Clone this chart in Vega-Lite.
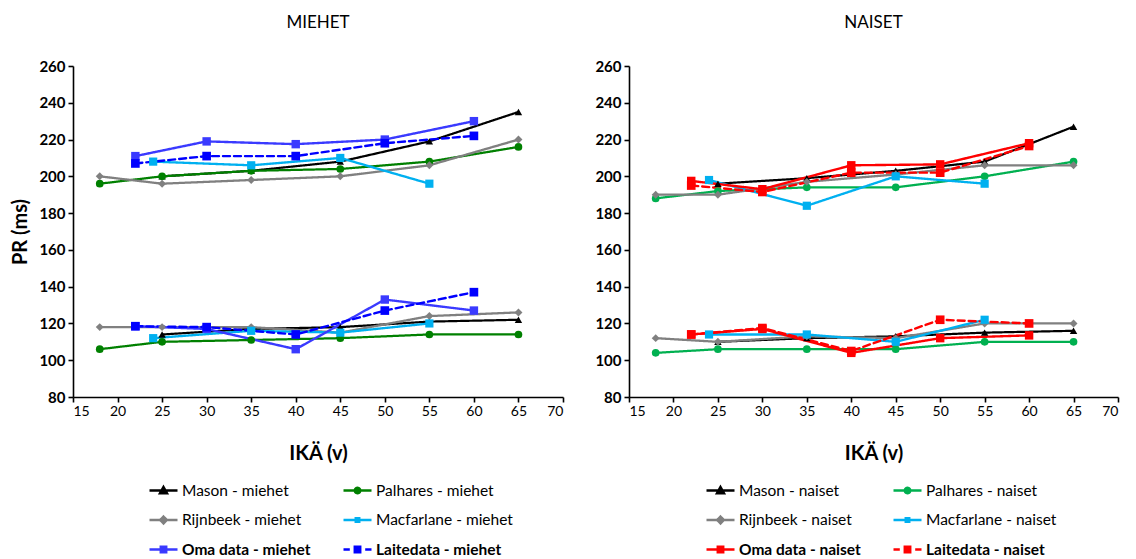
{
  "$schema": "https://vega.github.io/schema/vega-lite/v6.json",
  "padding": {"left": 10, "top": 14, "right": 5, "bottom": 0},
  "background": "white",
  "config": {
    "font": "Lato",
    "view": {"stroke": null},
    "axis": {"grid": false, "domainColor": "black", "domainWidth": 1.6, "tickColor": "black", "tickWidth": 1.6, "tickSize": 5, "labelColor": "black", "titleColor": "black"},
    "legend": {"labelFont": "Lato", "labelFontSize": 15.5, "labelColor": "black", "symbolSize": 784, "symbolStrokeWidth": 2.3, "columns": 2, "columnPadding": 27, "rowPadding": 5.5, "labelOffset": 3, "orient": "none", "title": null}
  },
  "resolve": {
    "scale": {"color": "independent", "shape": "independent", "size": "independent", "strokeDash": "independent", "strokeWidth": "independent"},
    "legend": {"color": "independent"}
  },
  "datasets": {
    "pr": [
      {"sex":"miehet","series":"Mason - miehet","band":"u","age":25,"pr":200},
      {"sex":"miehet","series":"Mason - miehet","band":"u","age":35,"pr":203},
      {"sex":"miehet","series":"Mason - miehet","band":"u","age":45,"pr":208},
      {"sex":"miehet","series":"Mason - miehet","band":"u","age":55,"pr":219},
      {"sex":"miehet","series":"Mason - miehet","band":"u","age":65,"pr":235},
      {"sex":"miehet","series":"Mason - miehet","band":"l","age":25,"pr":114},
      {"sex":"miehet","series":"Mason - miehet","band":"l","age":35,"pr":117},
      {"sex":"miehet","series":"Mason - miehet","band":"l","age":45,"pr":118},
      {"sex":"miehet","series":"Mason - miehet","band":"l","age":55,"pr":121},
      {"sex":"miehet","series":"Mason - miehet","band":"l","age":65,"pr":122},
      {"sex":"miehet","series":"Palhares - miehet","band":"u","age":18,"pr":196},
      {"sex":"miehet","series":"Palhares - miehet","band":"u","age":25,"pr":200},
      {"sex":"miehet","series":"Palhares - miehet","band":"u","age":35,"pr":203},
      {"sex":"miehet","series":"Palhares - miehet","band":"u","age":45,"pr":204},
      {"sex":"miehet","series":"Palhares - miehet","band":"u","age":55,"pr":208},
      {"sex":"miehet","series":"Palhares - miehet","band":"u","age":65,"pr":216},
      {"sex":"miehet","series":"Palhares - miehet","band":"l","age":18,"pr":106},
      {"sex":"miehet","series":"Palhares - miehet","band":"l","age":25,"pr":110},
      {"sex":"miehet","series":"Palhares - miehet","band":"l","age":35,"pr":111},
      {"sex":"miehet","series":"Palhares - miehet","band":"l","age":45,"pr":112},
      {"sex":"miehet","series":"Palhares - miehet","band":"l","age":55,"pr":114},
      {"sex":"miehet","series":"Palhares - miehet","band":"l","age":65,"pr":114},
      {"sex":"miehet","series":"Rijnbeek - miehet","band":"u","age":18,"pr":200},
      {"sex":"miehet","series":"Rijnbeek - miehet","band":"u","age":25,"pr":196},
      {"sex":"miehet","series":"Rijnbeek - miehet","band":"u","age":35,"pr":198},
      {"sex":"miehet","series":"Rijnbeek - miehet","band":"u","age":45,"pr":200},
      {"sex":"miehet","series":"Rijnbeek - miehet","band":"u","age":55,"pr":206},
      {"sex":"miehet","series":"Rijnbeek - miehet","band":"u","age":65,"pr":220},
      {"sex":"miehet","series":"Rijnbeek - miehet","band":"l","age":18,"pr":118},
      {"sex":"miehet","series":"Rijnbeek - miehet","band":"l","age":25,"pr":118},
      {"sex":"miehet","series":"Rijnbeek - miehet","band":"l","age":35,"pr":118},
      {"sex":"miehet","series":"Rijnbeek - miehet","band":"l","age":45,"pr":115},
      {"sex":"miehet","series":"Rijnbeek - miehet","band":"l","age":55,"pr":124},
      {"sex":"miehet","series":"Rijnbeek - miehet","band":"l","age":65,"pr":126},
      {"sex":"miehet","series":"Macfarlane - miehet","band":"u","age":24,"pr":208},
      {"sex":"miehet","series":"Macfarlane - miehet","band":"u","age":35,"pr":206},
      {"sex":"miehet","series":"Macfarlane - miehet","band":"u","age":45,"pr":210},
      {"sex":"miehet","series":"Macfarlane - miehet","band":"u","age":55,"pr":196},
      {"sex":"miehet","series":"Macfarlane - miehet","band":"l","age":24,"pr":112},
      {"sex":"miehet","series":"Macfarlane - miehet","band":"l","age":35,"pr":116},
      {"sex":"miehet","series":"Macfarlane - miehet","band":"l","age":45,"pr":115},
      {"sex":"miehet","series":"Macfarlane - miehet","band":"l","age":55,"pr":120},
      {"sex":"miehet","series":"Oma data - miehet","band":"u","age":22,"pr":211},
      {"sex":"miehet","series":"Oma data - miehet","band":"u","age":30,"pr":219},
      {"sex":"miehet","series":"Oma data - miehet","band":"u","age":40,"pr":217.5},
      {"sex":"miehet","series":"Oma data - miehet","band":"u","age":50,"pr":220},
      {"sex":"miehet","series":"Oma data - miehet","band":"u","age":60,"pr":230},
      {"sex":"miehet","series":"Oma data - miehet","band":"l","age":22,"pr":118.5},
      {"sex":"miehet","series":"Oma data - miehet","band":"l","age":30,"pr":117},
      {"sex":"miehet","series":"Oma data - miehet","band":"l","age":40,"pr":106},
      {"sex":"miehet","series":"Oma data - miehet","band":"l","age":50,"pr":133},
      {"sex":"miehet","series":"Oma data - miehet","band":"l","age":60,"pr":127},
      {"sex":"miehet","series":"Laitedata - miehet","band":"u","age":22,"pr":207},
      {"sex":"miehet","series":"Laitedata - miehet","band":"u","age":30,"pr":211},
      {"sex":"miehet","series":"Laitedata - miehet","band":"u","age":40,"pr":211},
      {"sex":"miehet","series":"Laitedata - miehet","band":"u","age":50,"pr":218},
      {"sex":"miehet","series":"Laitedata - miehet","band":"u","age":60,"pr":222},
      {"sex":"miehet","series":"Laitedata - miehet","band":"l","age":22,"pr":118.5},
      {"sex":"miehet","series":"Laitedata - miehet","band":"l","age":30,"pr":118},
      {"sex":"miehet","series":"Laitedata - miehet","band":"l","age":40,"pr":114},
      {"sex":"miehet","series":"Laitedata - miehet","band":"l","age":50,"pr":127},
      {"sex":"miehet","series":"Laitedata - miehet","band":"l","age":60,"pr":137},

      {"sex":"naiset","series":"Mason - naiset","band":"u","age":25,"pr":196},
      {"sex":"naiset","series":"Mason - naiset","band":"u","age":35,"pr":199},
      {"sex":"naiset","series":"Mason - naiset","band":"u","age":45,"pr":203},
      {"sex":"naiset","series":"Mason - naiset","band":"u","age":55,"pr":208},
      {"sex":"naiset","series":"Mason - naiset","band":"u","age":65,"pr":227},
      {"sex":"naiset","series":"Mason - naiset","band":"l","age":25,"pr":110},
      {"sex":"naiset","series":"Mason - naiset","band":"l","age":35,"pr":112},
      {"sex":"naiset","series":"Mason - naiset","band":"l","age":45,"pr":113},
      {"sex":"naiset","series":"Mason - naiset","band":"l","age":55,"pr":115},
      {"sex":"naiset","series":"Mason - naiset","band":"l","age":65,"pr":116},
      {"sex":"naiset","series":"Palhares - naiset","band":"u","age":18,"pr":188},
      {"sex":"naiset","series":"Palhares - naiset","band":"u","age":25,"pr":192},
      {"sex":"naiset","series":"Palhares - naiset","band":"u","age":35,"pr":194},
      {"sex":"naiset","series":"Palhares - naiset","band":"u","age":45,"pr":194},
      {"sex":"naiset","series":"Palhares - naiset","band":"u","age":55,"pr":200},
      {"sex":"naiset","series":"Palhares - naiset","band":"u","age":65,"pr":208},
      {"sex":"naiset","series":"Palhares - naiset","band":"l","age":18,"pr":104},
      {"sex":"naiset","series":"Palhares - naiset","band":"l","age":25,"pr":106},
      {"sex":"naiset","series":"Palhares - naiset","band":"l","age":35,"pr":106},
      {"sex":"naiset","series":"Palhares - naiset","band":"l","age":45,"pr":106},
      {"sex":"naiset","series":"Palhares - naiset","band":"l","age":55,"pr":110},
      {"sex":"naiset","series":"Palhares - naiset","band":"l","age":65,"pr":110},
      {"sex":"naiset","series":"Rijnbeek - naiset","band":"u","age":18,"pr":190},
      {"sex":"naiset","series":"Rijnbeek - naiset","band":"u","age":25,"pr":190},
      {"sex":"naiset","series":"Rijnbeek - naiset","band":"u","age":35,"pr":197},
      {"sex":"naiset","series":"Rijnbeek - naiset","band":"u","age":45,"pr":201},
      {"sex":"naiset","series":"Rijnbeek - naiset","band":"u","age":55,"pr":206},
      {"sex":"naiset","series":"Rijnbeek - naiset","band":"u","age":65,"pr":206},
      {"sex":"naiset","series":"Rijnbeek - naiset","band":"l","age":18,"pr":112},
      {"sex":"naiset","series":"Rijnbeek - naiset","band":"l","age":25,"pr":110},
      {"sex":"naiset","series":"Rijnbeek - naiset","band":"l","age":35,"pr":113},
      {"sex":"naiset","series":"Rijnbeek - naiset","band":"l","age":45,"pr":112},
      {"sex":"naiset","series":"Rijnbeek - naiset","band":"l","age":55,"pr":120},
      {"sex":"naiset","series":"Rijnbeek - naiset","band":"l","age":65,"pr":120},
      {"sex":"naiset","series":"Macfarlane - naiset","band":"u","age":24,"pr":198},
      {"sex":"naiset","series":"Macfarlane - naiset","band":"u","age":35,"pr":184},
      {"sex":"naiset","series":"Macfarlane - naiset","band":"u","age":45,"pr":200},
      {"sex":"naiset","series":"Macfarlane - naiset","band":"u","age":55,"pr":196},
      {"sex":"naiset","series":"Macfarlane - naiset","band":"l","age":24,"pr":114},
      {"sex":"naiset","series":"Macfarlane - naiset","band":"l","age":35,"pr":114},
      {"sex":"naiset","series":"Macfarlane - naiset","band":"l","age":45,"pr":110},
      {"sex":"naiset","series":"Macfarlane - naiset","band":"l","age":55,"pr":122},
      {"sex":"naiset","series":"Oma data - naiset","band":"u","age":22,"pr":197.5},
      {"sex":"naiset","series":"Oma data - naiset","band":"u","age":30,"pr":193},
      {"sex":"naiset","series":"Oma data - naiset","band":"u","age":40,"pr":206},
      {"sex":"naiset","series":"Oma data - naiset","band":"u","age":50,"pr":206.5},
      {"sex":"naiset","series":"Oma data - naiset","band":"u","age":60,"pr":218},
      {"sex":"naiset","series":"Oma data - naiset","band":"l","age":22,"pr":114},
      {"sex":"naiset","series":"Oma data - naiset","band":"l","age":30,"pr":117},
      {"sex":"naiset","series":"Oma data - naiset","band":"l","age":40,"pr":104},
      {"sex":"naiset","series":"Oma data - naiset","band":"l","age":50,"pr":112},
      {"sex":"naiset","series":"Oma data - naiset","band":"l","age":60,"pr":113.5},
      {"sex":"naiset","series":"Laitedata - naiset","band":"u","age":22,"pr":195},
      {"sex":"naiset","series":"Laitedata - naiset","band":"u","age":30,"pr":191.5},
      {"sex":"naiset","series":"Laitedata - naiset","band":"u","age":40,"pr":202},
      {"sex":"naiset","series":"Laitedata - naiset","band":"u","age":50,"pr":202},
      {"sex":"naiset","series":"Laitedata - naiset","band":"u","age":60,"pr":216.5},
      {"sex":"naiset","series":"Laitedata - naiset","band":"l","age":22,"pr":114},
      {"sex":"naiset","series":"Laitedata - naiset","band":"l","age":30,"pr":117.5},
      {"sex":"naiset","series":"Laitedata - naiset","band":"l","age":40,"pr":105},
      {"sex":"naiset","series":"Laitedata - naiset","band":"l","age":50,"pr":122},
      {"sex":"naiset","series":"Laitedata - naiset","band":"l","age":60,"pr":120}
    ]
  },
  "bounds": "flush",
  "spacing": 66,
  "hconcat": [
    {
      "width": 490,
      "height": 331,
      "title": {"text": "MIEHET", "fontSize": 17, "fontWeight": "normal", "color": "black", "offset": 27, "frame": "group"},
      "data": {"name": "pr"},
      "transform": [{"filter": "datum.sex == 'miehet'"}],
      "encoding": {
        "x": {"field": "age", "type": "quantitative", "scale": {"domain": [15, 70], "nice": false},
              "axis": {"values": [15,20,25,30,35,40,45,50,55,60,65,70], "labelFontSize": 14, "labelPadding": 2, "title": "IKÄ (v)", "titleFontSize": 20, "titleFontWeight": "bold", "titlePadding": 25}},
        "y": {"field": "pr", "type": "quantitative", "scale": {"domain": [80, 260], "nice": false},
              "axis": {"values": [80,100,120,140,160,180,200,220,240,260], "labelFontSize": 15, "labelFontWeight": "bold", "labelPadding": 3, "title": "PR (ms)", "titleFontSize": 20, "titleFontWeight": "bold", "titlePadding": 8}},
        "color": {"field": "series", "type": "nominal",
                  "scale": {"domain": ["Mason - miehet","Rijnbeek - miehet","Oma data - miehet","Palhares - miehet","Macfarlane - miehet","Laitedata - miehet"],
                            "range": ["#000000","#808080","#3A3AFF","#008000","#00B0F0","#0000FF"]},
                  "legend": {"legendX": 75, "legendY": 409, "symbolSize": 784,
                    "encoding": {
                      "labels": {"fontWeight": {"value": {"expr": "indexof(datum.label,'data') >= 0 ? 'bold' : 'normal'"}}},
                      "symbols": {
                        "shape": {"value": {"expr": "indexof(datum.value,'Mason')>=0 ? 'M-1,0H1M0,-0.26L0.26,0.2H-0.26Z' : indexof(datum.value,'Palhares')>=0 ? 'M-1,0H1M0.2,0A0.2,0.2 0 1,1 -0.2,0A0.2,0.2 0 1,1 0.2,0Z' : indexof(datum.value,'Rijnbeek')>=0 ? 'M-1,0H1M0,-0.25L0.25,0L0,0.25L-0.25,0Z' : indexof(datum.value,'Macfarlane')>=0 ? 'M-1,0H1M-0.13,-0.13H0.13V0.13H-0.13Z' : indexof(datum.value,'Oma')>=0 ? 'M-1,0H1M-0.2,-0.2H0.2V0.2H-0.2Z' : 'M-1,0H-0.55M0.55,0H1M-0.2,-0.2H0.2V0.2H-0.2Z'"}},
                        "fill": {"value": {"expr": "indexof(datum.value,'Mason')>=0 ? '#000000' : indexof(datum.value,'Palhares')>=0 ? '#008000' : indexof(datum.value,'Rijnbeek')>=0 ? '#808080' : indexof(datum.value,'Macfarlane')>=0 ? '#00B0F0' : indexof(datum.value,'Oma')>=0 ? '#3A3AFF' : '#0000FF'"}},
                        "stroke": {"value": {"expr": "indexof(datum.value,'Mason')>=0 ? '#000000' : indexof(datum.value,'Palhares')>=0 ? '#008000' : indexof(datum.value,'Rijnbeek')>=0 ? '#808080' : indexof(datum.value,'Macfarlane')>=0 ? '#00B0F0' : indexof(datum.value,'Oma')>=0 ? '#3A3AFF' : '#0000FF'"}},
                        "size": {"value": 784},
                        "strokeWidth": {"value": 2.3},
                        "strokeDash": {"value": [1, 0]},
                        "opacity": {"value": 1}
                      }
                    }}}
      },
      "layer": [
        {"mark": {"type": "line", "strokeCap": "round", "strokeJoin": "round"},
         "encoding": {
           "detail": {"field": "band", "type": "nominal"},
           "strokeDash": {"field": "series", "type": "nominal", "legend": null,
                          "scale": {"domain": ["Mason - miehet","Palhares - miehet","Rijnbeek - miehet","Macfarlane - miehet","Oma data - miehet","Laitedata - miehet"],
                                    "range": [[1,0],[1,0],[1,0],[1,0],[1,0],[7,4]]}},
           "strokeWidth": {"field": "series", "type": "nominal", "legend": null,
                          "scale": {"domain": ["Mason - miehet","Palhares - miehet","Rijnbeek - miehet","Macfarlane - miehet","Oma data - miehet","Laitedata - miehet"],
                                    "range": [2.2,2.4,2.8,2,3,2.6]}}
         }},
        {"mark": {"type": "point", "filled": true, "opacity": 1},
         "encoding": {
           "shape": {"field": "series", "type": "nominal", "legend": null,
                     "scale": {"domain": ["Mason - miehet","Palhares - miehet","Rijnbeek - miehet","Macfarlane - miehet","Oma data - miehet","Laitedata - miehet"],
                               "range": ["triangle-up","circle","diamond","square","square","square"]}},
           "size": {"field": "series", "type": "nominal", "legend": null,
                    "scale": {"domain": ["Mason - miehet","Palhares - miehet","Rijnbeek - miehet","Macfarlane - miehet","Oma data - miehet","Laitedata - miehet"],
                              "range": [55,75,75,40,64,64]}}
         }}
      ]
    },
    {
      "width": 489,
      "height": 331,
      "title": {"text": "NAISET", "fontSize": 17, "fontWeight": "normal", "color": "black", "offset": 27, "frame": "group"},
      "data": {"name": "pr"},
      "transform": [{"filter": "datum.sex == 'naiset'"}],
      "encoding": {
        "x": {"field": "age", "type": "quantitative", "scale": {"domain": [15, 70], "nice": false},
              "axis": {"values": [15,20,25,30,35,40,45,50,55,60,65,70], "labelFontSize": 14, "labelPadding": 2, "title": "IKÄ (v)", "titleFontSize": 20, "titleFontWeight": "bold", "titlePadding": 25}},
        "y": {"field": "pr", "type": "quantitative", "scale": {"domain": [80, 260], "nice": false},
              "axis": {"values": [80,100,120,140,160,180,200,220,240,260], "labelFontSize": 15, "labelFontWeight": "bold", "labelPadding": 3, "title": null}},
        "color": {"field": "series", "type": "nominal",
                  "scale": {"domain": ["Mason - naiset","Rijnbeek - naiset","Oma data - naiset","Palhares - naiset","Macfarlane - naiset","Laitedata - naiset"],
                            "range": ["#000000","#808080","#FF0000","#00B050","#00B0F0","#FF0000"]},
                  "legend": {"legendX": 76, "legendY": 409, "symbolSize": 784,
                    "encoding": {
                      "labels": {"fontWeight": {"value": {"expr": "indexof(datum.label,'data') >= 0 ? 'bold' : 'normal'"}}},
                      "symbols": {
                        "shape": {"value": {"expr": "indexof(datum.value,'Mason')>=0 ? 'M-1,0H1M0,-0.26L0.26,0.2H-0.26Z' : indexof(datum.value,'Palhares')>=0 ? 'M-1,0H1M0.2,0A0.2,0.2 0 1,1 -0.2,0A0.2,0.2 0 1,1 0.2,0Z' : indexof(datum.value,'Rijnbeek')>=0 ? 'M-1,0H1M0,-0.25L0.25,0L0,0.25L-0.25,0Z' : indexof(datum.value,'Macfarlane')>=0 ? 'M-1,0H1M-0.13,-0.13H0.13V0.13H-0.13Z' : indexof(datum.value,'Oma')>=0 ? 'M-1,0H1M-0.2,-0.2H0.2V0.2H-0.2Z' : 'M-1,0H-0.55M0.55,0H1M-0.2,-0.2H0.2V0.2H-0.2Z'"}},
                        "fill": {"value": {"expr": "indexof(datum.value,'Mason')>=0 ? '#000000' : indexof(datum.value,'Palhares')>=0 ? '#00B050' : indexof(datum.value,'Rijnbeek')>=0 ? '#808080' : indexof(datum.value,'Macfarlane')>=0 ? '#00B0F0' : '#FF0000'"}},
                        "stroke": {"value": {"expr": "indexof(datum.value,'Mason')>=0 ? '#000000' : indexof(datum.value,'Palhares')>=0 ? '#00B050' : indexof(datum.value,'Rijnbeek')>=0 ? '#808080' : indexof(datum.value,'Macfarlane')>=0 ? '#00B0F0' : '#FF0000'"}},
                        "size": {"value": 784},
                        "strokeWidth": {"value": 2.3},
                        "strokeDash": {"value": [1, 0]},
                        "opacity": {"value": 1}
                      }
                    }}}
      },
      "layer": [
        {"mark": {"type": "line", "strokeCap": "round", "strokeJoin": "round"},
         "encoding": {
           "detail": {"field": "band", "type": "nominal"},
           "strokeDash": {"field": "series", "type": "nominal", "legend": null,
                          "scale": {"domain": ["Mason - naiset","Palhares - naiset","Rijnbeek - naiset","Macfarlane - naiset","Oma data - naiset","Laitedata - naiset"],
                                    "range": [[1,0],[1,0],[1,0],[1,0],[1,0],[7,4]]}},
           "strokeWidth": {"field": "series", "type": "nominal", "legend": null,
                          "scale": {"domain": ["Mason - naiset","Palhares - naiset","Rijnbeek - naiset","Macfarlane - naiset","Oma data - naiset","Laitedata - naiset"],
                                    "range": [2.2,2.4,2.8,2,3,2.6]}}
         }},
        {"mark": {"type": "point", "filled": true, "opacity": 1},
         "encoding": {
           "shape": {"field": "series", "type": "nominal", "legend": null,
                     "scale": {"domain": ["Mason - naiset","Palhares - naiset","Rijnbeek - naiset","Macfarlane - naiset","Oma data - naiset","Laitedata - naiset"],
                               "range": ["triangle-up","circle","diamond","square","square","square"]}},
           "size": {"field": "series", "type": "nominal", "legend": null,
                    "scale": {"domain": ["Mason - naiset","Palhares - naiset","Rijnbeek - naiset","Macfarlane - naiset","Oma data - naiset","Laitedata - naiset"],
                              "range": [55,75,75,40,80,80]}}
         }}
      ]
    }
  ]
}
